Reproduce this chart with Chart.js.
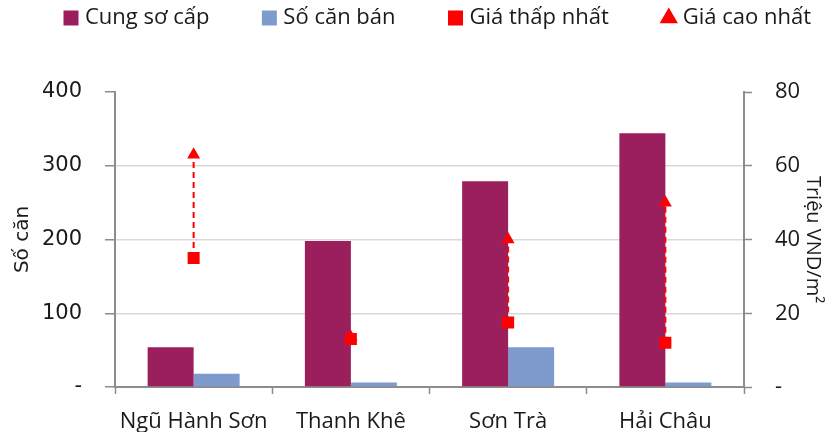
<!DOCTYPE html>
<html>
<head>
<meta charset="utf-8">
<script src="https://cdn.jsdelivr.net/npm/chart.js@4.4.1/dist/chart.umd.min.js"></script>
<style>
  html, body { margin: 0; padding: 0; background: #fff; }
  #wrap { width: 830px; height: 432px; }
</style>
</head>
<body>
<div id="wrap"><canvas id="chart" width="830" height="432"></canvas></div>
<script>
/* ---- data ---- */
const districts   = ['Ngũ Hành Sơn', 'Thanh Khê', 'Sơn Trà', 'Hải Châu'];
const supplyUnits = [54, 198, 279, 344];     // Cung sơ cấp
const soldUnits   = [18, 6, 54, 6];          // Số căn bán
const priceLow    = [35, 13, 17.5, 12];      // Giá thấp nhất (triệu VND/m2)
const priceHigh   = [63, 13.5, 40, 50];      // Giá cao nhất
const unitTicks   = [0, 100, 200, 300, 400];
const priceTicks  = [0, 20, 40, 60, 80];

const AXIS_GREY = '#8c8c8c';
const GRID_GREY = '#d9d9d9';
const TEXT = '#1a1a1a';
const LEGEND_PAD = 57;
const TOP_SHIFT = -50;   // legend sits higher than its own padding allows
const PAD_LEFT = 11;
const PAD_RIGHT = -60;   // lets the one-row legend run past the right axis box

Chart.defaults.font.family = "'Open Sans', 'Noto Sans', sans-serif";
Chart.defaults.font.size = 22;
Chart.defaults.color = TEXT;

const dashZero = v => (v === 0 ? '-' : v);

// push the plot down to y = 92
const legendSpacer = {
  id: 'legendSpacer',
  beforeInit(chart) {
    const fit = chart.legend.fit;
    chart.legend.fit = function () {
      fit.call(this);
      this.height = 92 - TOP_SHIFT;
    };
  }
};

// dashed red line between the low and high price markers
const rangeLines = {
  id: 'rangeLines',
  afterDatasetDraw(chart, args) {
    if (args.index !== 0) return;
    const lo = chart.getDatasetMeta(2).data, hi = chart.getDatasetMeta(3).data;
    const ctx = chart.ctx;
    ctx.save();
    ctx.strokeStyle = '#ff0000';
    ctx.lineWidth = 2;
    ctx.setLineDash([6, 4]);
    lo.forEach((p, i) => {
      ctx.beginPath();
      ctx.moveTo(p.x, p.y);
      ctx.lineTo(hi[i].x, hi[i].y);
      ctx.stroke();
    });
    ctx.restore();
  }
};

const legendStyles = ['rect', 'rect', 'rect', 'triangle'];

new Chart(document.getElementById('chart'), {
  data: {
    labels: districts,
    datasets: [
      { type: 'bar', label: 'Cung sơ cấp', data: supplyUnits, backgroundColor: '#9b1f5c',
        order: 2, yAxisID: 'y' },
      { type: 'bar', label: 'Số căn bán', data: soldUnits, backgroundColor: '#7f9acc',
        order: 2, yAxisID: 'y' },
      { type: 'line', label: 'Giá thấp nhất', data: priceLow, yAxisID: 'y1', showLine: false,
        pointStyle: 'rect', pointRadius: 8.5, pointBackgroundColor: '#ff0000', pointBorderWidth: 0,
        backgroundColor: '#ff0000', borderColor: '#ff0000', order: 1 },
      { type: 'line', label: 'Giá cao nhất', data: priceHigh, yAxisID: 'y1', showLine: false,
        pointStyle: 'triangle', pointRadius: 7.5, pointBackgroundColor: '#ff0000', pointBorderWidth: 0,
        backgroundColor: '#ff0000', borderColor: '#ff0000', order: 1 }
    ]
  },
  options: {
    responsive: false,
    animation: false,
    layout: { padding: { left: PAD_LEFT, right: PAD_RIGHT, top: TOP_SHIFT, bottom: 0 } },
    datasets: { bar: { categoryPercentage: 0.585, barPercentage: 1 } },
    plugins: {
      tooltip: { enabled: false },
      legend: {
        align: 'start',
        labels: {
          usePointStyle: true, boxWidth: 6, boxHeight: 15, padding: LEGEND_PAD,
          color: TEXT, font: { size: 22 },
          sort: (a, b) => a.datasetIndex - b.datasetIndex,
          generateLabels(chart) {
            const items = Chart.defaults.plugins.legend.labels.generateLabels(chart);
            items.forEach(it => {
              it.pointStyle = legendStyles[it.datasetIndex];
              it.lineWidth = 0;
              it.strokeStyle = 'transparent';
            });
            return items;
          }
        }
      }
    },
    scales: {
      x: {
        offset: true,
        grid: { drawOnChartArea: false, offset: true, tickLength: 7, tickColor: AXIS_GREY, tickWidth: 1.5 },
        border: { color: AXIS_GREY, width: 2 },
        ticks: { padding: 15, color: TEXT, font: { size: 22 } },
        afterFit: s => { s.height = 45; }
      },
      y: {
        position: 'left',
        min: unitTicks[0], max: unitTicks[unitTicks.length - 1],
        afterBuildTicks: s => { s.ticks = unitTicks.map(v => ({ value: v })); },
        grid: {
          color: c => (c.tick.value === 0 || c.tick.value === 400 ? 'transparent' : GRID_GREY),
          lineWidth: 1.5, tickLength: 10, tickColor: AXIS_GREY, tickWidth: 1.5
        },
        border: { color: AXIS_GREY, width: 2 },
        ticks: { padding: 23, color: TEXT, font: { family: "'DejaVu Sans', sans-serif", size: 21 }, callback: dashZero },
        title: { display: true, text: 'Số căn', color: TEXT, padding: { top: 0, bottom: 0 },
          font: { family: "'DejaVu Sans', sans-serif", size: 20 } },
        afterFit: s => { s.width = 115 - PAD_LEFT; }
      },
      y1: {
        position: 'right',
        min: priceTicks[0], max: priceTicks[priceTicks.length - 1],
        afterBuildTicks: s => { s.ticks = priceTicks.map(v => ({ value: v })); },
        grid: { drawOnChartArea: false, tickLength: 8, tickColor: AXIS_GREY, tickWidth: 1.5 },
        border: { color: AXIS_GREY, width: 2 },
        ticks: { padding: 23, color: TEXT, font: { size: 22 }, callback: dashZero },
        title: { display: true, text: 'Triệu VND/m²', color: TEXT, padding: { top: 5 - PAD_RIGHT, bottom: 0 }, font: { size: 20 } },
        afterFit: s => { s.width = 86 - PAD_RIGHT; }
      }
    }
  },
  plugins: [legendSpacer, rangeLines]
});
</script>
</body>
</html>
